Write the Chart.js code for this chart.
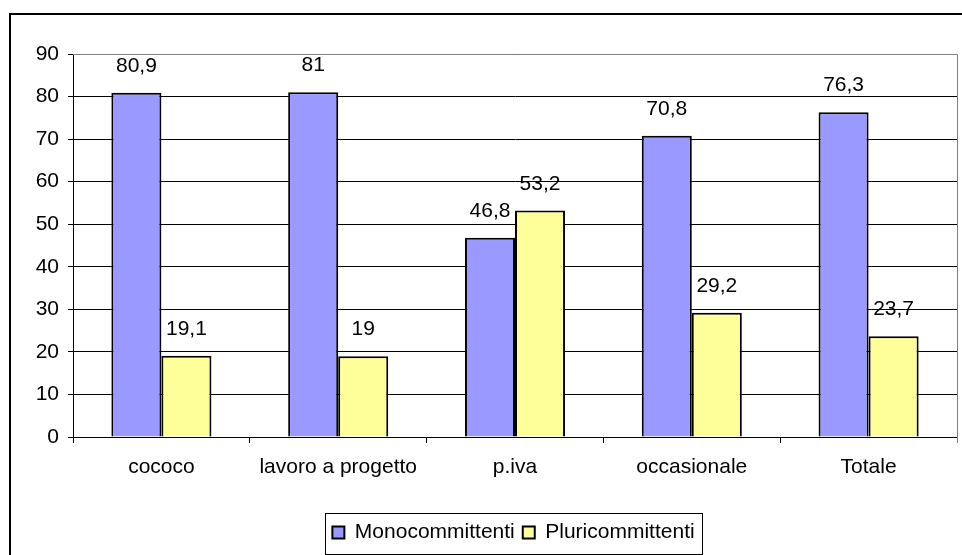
<!DOCTYPE html>
<html>
<head>
<meta charset="utf-8">
<script src="https://cdn.jsdelivr.net/npm/chart.js@4.4.0/dist/chart.umd.min.js"></script>
<style>
  body { margin: 0; background: #fff; }
  #wrap { width: 962px; height: 555px; }
</style>
</head>
<body>
<div id="wrap"><canvas id="chart" width="962" height="555"></canvas></div>
<script>
// categories and values
const categories = ['cococo', 'lavoro a progetto', 'p.iva', 'occasionale', 'Totale'];
const mono = [80.9, 81, 46.8, 70.8, 76.3];
const pluri = [19.1, 19, 53.2, 29.2, 23.7];
const yTicks = [0, 10, 20, 30, 40, 50, 60, 70, 80, 90];

const FONT = "'Liberation Sans', Arial, sans-serif";

// centre the legend under the plot area rather than the whole canvas
const legendShift = {
    id: 'legendShift',
    afterLayout(chart) {
        const l = chart.legend;
        const a = chart.chartArea;
        const delta = (a.left - 3 + a.right) / 2 - (l.left + l.right) / 2;
        l.left += delta;
        l.right += delta;
        (l.legendHitBoxes || []).forEach(b => { b.left += delta; });
    }
};

// frame around the whole chart, grey border of the plot area, box round the legend
const framePlugin = {
    id: 'frame',
    afterDraw(chart) {
        const ctx = chart.ctx;
        const a = chart.chartArea;
        ctx.save();
        ctx.strokeStyle = '#808080';
        ctx.lineWidth = 1;
        ctx.beginPath();
        ctx.moveTo(a.left, a.top + 0.5);
        ctx.lineTo(a.right + 0.5, a.top + 0.5);
        ctx.lineTo(a.right + 0.5, a.bottom + 6);
        ctx.stroke();
        ctx.strokeStyle = '#000';
        ctx.lineWidth = 2;
        ctx.beginPath();
        ctx.moveTo(10, 600);
        ctx.lineTo(10, 14);
        ctx.lineTo(1000, 14);
        ctx.stroke();
        const boxes = chart.legend.legendHitBoxes;
        if (boxes && boxes.length) {
            const first = boxes[0], last = boxes[boxes.length - 1];
            const cy = first.top + first.height / 2;
            const x0 = Math.round(first.left - 7) + 0.5;
            const x1 = Math.round(last.left + last.width + 7) + 0.5;
            ctx.lineWidth = 1;
            ctx.strokeRect(x0, Math.round(cy - 20) + 0.5, x1 - x0, 41);
        }
        ctx.restore();
    }
};

// value labels above each bar, decimal comma
const labelPlugin = {
    id: 'barLabels',
    afterDatasetsDraw(chart) {
        const ctx = chart.ctx;
        ctx.save();
        ctx.font = '21px ' + FONT;
        ctx.fillStyle = '#000';
        ctx.textAlign = 'center';
        ctx.textBaseline = 'alphabetic';
        chart.data.datasets.forEach((ds, i) => {
            chart.getDatasetMeta(i).data.forEach((bar, j) => {
                const txt = String(ds.data[j]).replace('.', ',');
                ctx.fillText(txt, bar.x, bar.y - 21);
            });
        });
        ctx.restore();
    }
};

new Chart(document.getElementById('chart'), {
    type: 'bar',
    data: {
        labels: categories,
        datasets: [
            { label: 'Monocommittenti', data: mono, backgroundColor: '#9999FF', borderColor: '#000', borderWidth: 2 },
            { label: 'Pluricommittenti', data: pluri, backgroundColor: '#FFFF99', borderColor: '#000', borderWidth: 2 }
        ]
    },
    options: {
        responsive: false,
        animation: false,
        datasets: { bar: { categoryPercentage: 0.566, barPercentage: 1 } },
        layout: { padding: { top: 54, right: 5, bottom: 2, left: 0 } },
        plugins: {
            tooltip: { enabled: false },
            legend: {
                position: 'bottom',
                labels: {
                    font: { family: FONT, size: 21 },
                    color: '#000',
                    boxWidth: 12,
                    boxHeight: 12,
                    padding: 8
                }
            }
        },
        scales: {
            x: {
                grid: { display: true, drawOnChartArea: false, drawTicks: true, tickLength: 6, color: '#000', offset: true },
                border: { color: '#000' },
                ticks: { font: { family: FONT, size: 21 }, color: '#000', padding: 12, maxRotation: 0 },
                afterFit(axis) { axis.height = 77; }
            },
            y: {
                min: 0,
                max: 90,
                afterBuildTicks(axis) { axis.ticks = yTicks.map(v => ({ value: v })); },
                grid: { color: '#000', tickLength: 5 },
                border: { color: '#000' },
                ticks: { font: { family: FONT, size: 21 }, color: '#000', padding: 9 },
                afterFit(axis) { axis.width = 73; }
            }
        }
    },
    plugins: [legendShift, framePlugin, labelPlugin]
});
</script>
</body>
</html>
